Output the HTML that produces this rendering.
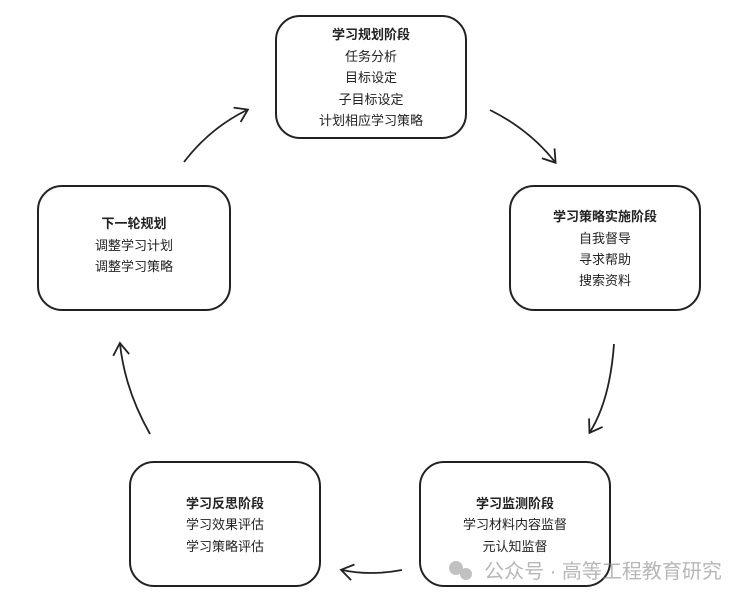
<!DOCTYPE html>
<html><head><meta charset="utf-8"><style>
html,body{margin:0;padding:0;background:#fff;}
svg text{font-family:"Liberation Sans","Noto Sans CJK SC",sans-serif;font-size:13px;fill:#222;text-anchor:middle;}
svg text.b{font-weight:bold;}
</style></head><body>
<svg width="754" height="601" viewBox="0 0 754 601" xmlns="http://www.w3.org/2000/svg">
<defs><marker id="a" markerWidth="18" markerHeight="18" refX="12" refY="9" orient="auto" markerUnits="userSpaceOnUse"><path d="M1,1 L13,9 L1,17" fill="none" stroke="#222" stroke-width="1.8"/></marker></defs>
<g fill="#fff" stroke="#222" stroke-width="2">
<rect x="276" y="16" width="190" height="122" rx="24"/>
<rect x="510" y="186" width="190" height="124" rx="24"/>
<rect x="420" y="462" width="190" height="124" rx="24"/>
<rect x="130" y="462" width="190" height="124" rx="24"/>
<rect x="38" y="186" width="192" height="124" rx="24"/>
</g>
<g fill="none" stroke="#222" stroke-width="1.8" marker-end="url(#a)">
<path d="M490,110 Q530,130 555,162"/>
<path d="M614,344 Q610,400 590,432"/>
<path d="M402,570 Q370,576 342,570"/>
<path d="M150,434 Q125,390 120,344"/>
<path d="M184,162 Q210,128 247,110"/>
</g>
<text class="b" x="371" y="39">学习规划阶段</text>
<text x="371" y="61">任务分析</text>
<text x="371" y="82">目标设定</text>
<text x="371" y="104">子目标设定</text>
<text x="371" y="125">计划相应学习策略</text>
<text class="b" x="605" y="221">学习策略实施阶段</text>
<text x="605" y="243">自我督导</text>
<text x="605" y="264">寻求帮助</text>
<text x="605" y="285">搜索资料</text>
<text class="b" x="515" y="508">学习监测阶段</text>
<text x="515" y="529">学习材料内容监督</text>
<text x="515" y="551">元认知监督</text>
<text class="b" x="225" y="508">学习反思阶段</text>
<text x="225" y="529">学习效果评估</text>
<text x="225" y="551">学习策略评估</text>
<text class="b" x="134" y="228">下一轮规划</text>
<text x="134" y="250">调整学习计划</text>
<text x="134" y="271">调整学习策略</text>
<g opacity="0.6">
<circle cx="456" cy="568" r="7" fill="#999"/><circle cx="466" cy="574" r="6" fill="#999"/>
<text x="603" y="578" style="font-size:20px;fill:#888">公众号 · 高等工程教育研究</text>
</g>
</svg>
</body></html>
